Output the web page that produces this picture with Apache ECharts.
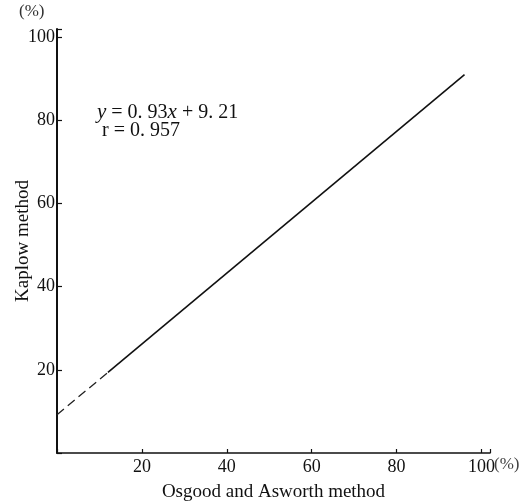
<!DOCTYPE html>
<html>
<head>
<meta charset="utf-8">
<script src="https://cdn.jsdelivr.net/npm/echarts@6/dist/echarts.min.js"></script>
<style>
html,body{margin:0;padding:0;background:#fff;}
#main{width:521px;height:503px;}
</style>
</head>
<body>
<div id="main"></div>
<script>
// values
var dashX = [0, 12];
var dashY = [9.2, 19.4];
var solidX = [12, 96];
var solidY = [19.4, 91];
var tickStep = 20;

function pairs(xs, ys){
	var out = [];
	for (var i = 0; i < xs.length; i++) out.push([xs[i], ys[i]]);
	return out;
}

var serif = '"Liberation Serif", "DejaVu Serif", serif';

function tickLabel(v){
	if (v === 0 || v % tickStep !== 0) return '';
	return v;
}

var myChart = echarts.init(document.getElementById('main'));
var option = {
	backgroundColor: '#fff',
	animation: false,
	grid: { left: 57, right: 31, top: 29, bottom: 50, outerBoundsMode: 'none', containLabel: false },
	xAxis: {
		type: 'value',
		min: 0, max: 102, interval: tickStep,
		splitLine: { show: false },
		axisLine: { lineStyle: { color: '#111', width: 1.6 } },
		axisTick: { inside: true, length: 4, lineStyle: { color: '#111', width: 1.2 } },
		axisLabel: { formatter: tickLabel, color: '#111', fontFamily: serif, fontSize: 18, margin: 5 },
		name: 'Osgood and Asworth method',
		nameLocation: 'middle',
		nameMoveOverlap: false,
		nameGap: 30,
		nameTextStyle: { color: '#111', fontFamily: serif, fontSize: 19 }
	},
	yAxis: {
		type: 'value',
		min: 0, max: 102, interval: tickStep,
		splitLine: { show: false },
		axisLine: { lineStyle: { color: '#111', width: 2 } },
		axisTick: { inside: true, length: 5, lineStyle: { color: '#111', width: 1.2 } },
		axisLabel: { formatter: tickLabel, color: '#111', fontFamily: serif, fontSize: 18, margin: 2 },
		name: 'Kaplow method',
		nameLocation: 'middle',
		nameMoveOverlap: false,
		nameGap: 24,
		nameTextStyle: { color: '#111', fontFamily: serif, fontSize: 19 }
	},
	graphic: [
		{ type: 'text', left: 19, top: 3, style: { text: '(%)', fill: '#333', font: '17px ' + serif } },
		{ type: 'text', left: 494, top: 456, style: { text: '(%)', fill: '#444', font: '17px ' + serif } },
		{
			type: 'text', left: 97, top: 102,
			style: {
				text: '{i|y} = 0. 93{i|x} + 9. 21\n r = 0. 957',
				fill: '#111',
				font: '20px ' + serif,
				lineHeight: 18,
				rich: { i: { fontStyle: 'italic', fontFamily: serif, fontSize: 21, fill: '#111' } }
			}
		}
	],
	series: [
		{
			type: 'line',
			data: pairs(dashX, dashY),
			symbol: 'none',
			lineStyle: { color: '#222', width: 1.3, type: [9, 5] }
		},
		{
			type: 'line',
			data: pairs(solidX, solidY),
			symbol: 'none',
			lineStyle: { color: '#111', width: 1.6 }
		}
	]
};
myChart.setOption(option);
</script>
</body>
</html>
